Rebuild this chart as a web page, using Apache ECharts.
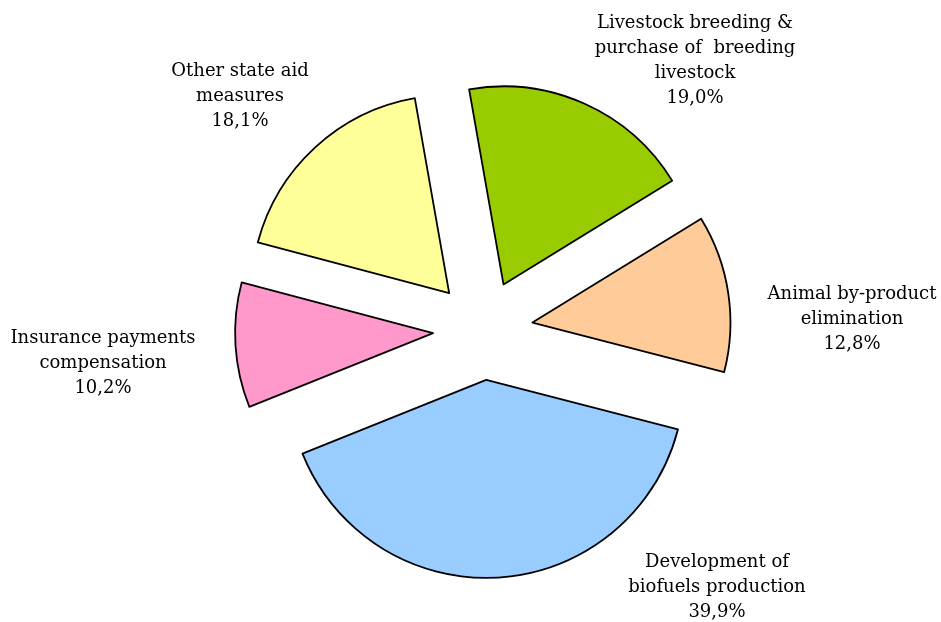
<!DOCTYPE html>
<html>
<head>
<meta charset="utf-8">
<script src="https://cdn.jsdelivr.net/npm/echarts@6/dist/echarts.min.js"></script>
<style>
html,body{margin:0;padding:0;background:#fff;}
#chart{width:941px;height:622px;}
</style>
</head>
<body>
<div id="chart"></div>
<script>
// Data
const categories = [
  'Livestock breeding &\npurchase of  breeding\nlivestock',
  'Animal by-product\nelimination',
  'Development of\nbiofuels production',
  'Insurance payments\ncompensation',
  'Other state aid\nmeasures'
];
const values = [19.0, 12.8, 39.9, 10.2, 18.1];

// Styling / layout (kept separate from data)
const colors = ['#99CC00', '#FFCC99', '#99CCFF', '#FF99CC', '#FFFF99'];
const labelAnchors = [[695, 61], [852, 319], [717, 587], [103, 363], [240, 96]];
const labelFont = { fontFamily: 'DejaVu Serif', fontSize: 18, lineHeight: 25 };

const fmt = v => v.toFixed(1).replace('.', ',') + '%';

const chart = echarts.init(document.getElementById('chart'));
chart.setOption({
  backgroundColor: '#fff',
  animation: false,
  series: [{
    type: 'pie',
    center: [483, 330],
    radius: 198,
    startAngle: 100,
    clockwise: true,
    selectedMode: 'multiple',
    selectedOffset: 50,
    emphasis: { disabled: true },
    itemStyle: { borderColor: '#000', borderWidth: 1.8 },
    label: { show: false },
    labelLine: { show: false },
    data: categories.map((c, i) => ({
      name: c,
      value: values[i],
      selected: true,
      itemStyle: { color: colors[i] }
    }))
  }],
  graphic: categories.map((c, i) => ({
    type: 'text',
    x: labelAnchors[i][0],
    y: labelAnchors[i][1],
    silent: true,
    style: {
      text: c + '\n' + fmt(values[i]),
      fill: '#000',
      align: 'center',
      verticalAlign: 'middle',
      fontFamily: labelFont.fontFamily,
      fontSize: labelFont.fontSize,
      lineHeight: labelFont.lineHeight
    }
  }))
});
</script>
</body>
</html>
